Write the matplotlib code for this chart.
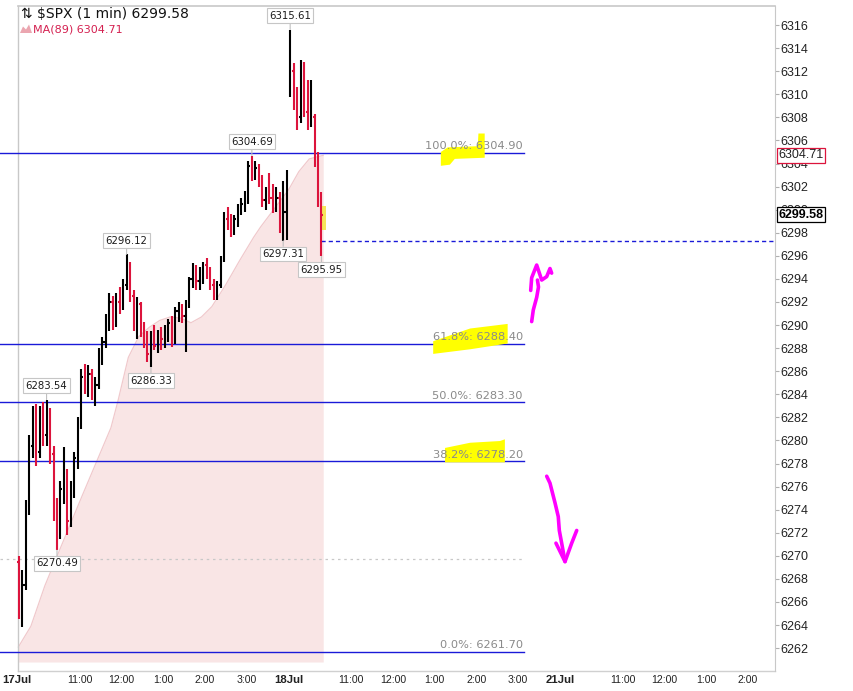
import matplotlib
matplotlib.use("Agg")
import matplotlib.pyplot as plt
from matplotlib.patches import Polygon, Rectangle
from matplotlib.collections import LineCollection

W, H = 854, 691
SESSION = 390          # minutes per trading session
BAR = 5                # minutes per drawn bar

# ---------------- data ----------------
# 17 Jul (5-minute bars, 9:30 - 16:00)
jul17_first_open = 6269.5
jul17_close = [6265.5, 6267.5, 6274.0, 6279.5, 6281.5, 6279.0, 6282.5, 6280.5, 6282.0, 6278.8,
               6274.0, 6272.5, 6275.8, 6277.0, 6273.0, 6276.0, 6278.5, 6281.5, 6285.5, 6284.8,
               6285.8, 6284.2, 6284.8, 6287.5, 6288.5, 6290.5, 6292.0, 6290.2, 6292.0, 6291.8,
               6293.5, 6295.0, 6292.5, 6290.0, 6291.8, 6289.5, 6288.5, 6287.5, 6289.0, 6288.2,
               6289.2, 6288.8, 6289.8, 6290.2, 6288.6, 6291.2, 6291.5, 6290.8, 6291.8, 6294.0,
               6294.8, 6293.8, 6294.5, 6295.2, 6294.5, 6293.5, 6292.6, 6293.5, 6295.8, 6299.2,
               6298.8, 6298.0, 6299.2, 6300.2, 6300.5, 6301.2, 6303.8, 6303.2, 6303.6, 6302.5,
               6300.8, 6301.5, 6301.0, 6300.3, 6301.0, 6298.5, 6299.8, 6302.0]
jul17_high = [6270.0, 6268.8, 6274.8, 6280.5, 6283.0, 6283.2, 6283.0, 6283.3, 6283.54, 6282.8,
              6279.5, 6275.0, 6276.5, 6279.4, 6277.5, 6276.5, 6279.0, 6282.0, 6286.2, 6286.6,
              6286.5, 6286.2, 6285.5, 6288.0, 6289.0, 6291.0, 6292.8, 6292.5, 6292.8, 6293.3,
              6294.0, 6296.12, 6295.5, 6293.0, 6292.4, 6292.0, 6290.3, 6289.5, 6289.5, 6290.0,
              6289.6, 6289.8, 6290.0, 6290.5, 6290.8, 6291.6, 6292.0, 6291.8, 6292.2, 6294.2,
              6295.4, 6295.2, 6295.0, 6295.5, 6295.8, 6295.0, 6294.0, 6293.8, 6296.0, 6299.8,
              6300.2, 6299.6, 6299.5, 6300.5, 6301.0, 6301.6, 6304.2, 6304.69, 6304.2, 6304.0,
              6303.0, 6302.0, 6303.2, 6302.2, 6302.0, 6301.5, 6302.5, 6303.4]
jul17_low = [6264.5, 6263.8, 6267.0, 6273.5, 6278.5, 6277.8, 6278.5, 6279.5, 6279.5, 6278.0,
             6273.0, 6270.49, 6271.5, 6274.5, 6271.8, 6272.5, 6275.0, 6277.5, 6281.0, 6284.0,
             6283.8, 6283.5, 6283.0, 6284.5, 6286.5, 6288.0, 6289.5, 6289.6, 6289.8, 6291.0,
             6291.3, 6293.0, 6292.0, 6289.5, 6288.8, 6289.0, 6288.0, 6286.8, 6286.33, 6287.8,
             6287.6, 6287.8, 6288.0, 6288.5, 6288.1, 6288.4, 6290.3, 6290.2, 6287.7, 6291.5,
             6293.2, 6293.0, 6293.0, 6293.6, 6294.0, 6293.0, 6292.2, 6292.2, 6293.2, 6295.5,
             6298.2, 6297.6, 6297.8, 6298.5, 6299.5, 6299.8, 6300.5, 6302.5, 6302.6, 6302.0,
             6300.2, 6300.0, 6300.5, 6299.7, 6299.8, 6298.0, 6297.31, 6297.4]

# 18 Jul (5-minute bars, 9:30 - 10:20)
jul18_first_open = 6310.0
jul18_close = [6312.0, 6309.0, 6308.0, 6309.5, 6308.5, 6307.5, 6308.0, 6304.5, 6300.8, 6299.58]
jul18_high = [6315.61, 6312.7, 6310.6, 6313.0, 6312.8, 6311.2, 6311.2, 6308.3, 6305.0, 6301.5]
jul18_low = [6309.8, 6308.6, 6306.9, 6307.5, 6308.0, 6306.9, 6307.2, 6303.7, 6300.2, 6295.95]

# MA(89)
ma_time = [2, 20, 40, 55, 95, 135, 145, 160, 175, 190, 205, 220, 235, 250, 265, 280,
           300, 320, 340, 350, 365, 390, 405, 420, 440]
ma_value = [6262.1, 6263.9, 6267.4, 6269.6, 6275.4, 6281.1, 6283.4, 6287.2, 6289.0, 6289.8,
            6290.4, 6290.7, 6290.6, 6290.2, 6290.7, 6291.6, 6293.5, 6295.6, 6297.6, 6298.5,
            6299.7, 6301.7, 6303.3, 6304.4, 6304.71]
ma_last = 6304.71
last_price = 6299.58

# Fibonacci retracement
fib_pct = ["100.0%", "61.8%", "50.0%", "38.2%", "0.0%"]
fib_level = [6304.90, 6288.40, 6283.30, 6278.20, 6261.70]
fib_end = 728
prev_low_level = 6297.31
dotted_level = 6269.75

peak_labels = [6315.61, 6304.69, 6296.12, 6283.54]
trough_labels = [6286.33, 6270.49, 6297.31, 6295.95]

# x axis ticks (minutes from 17 Jul open)
tick_time = [0, 90, 150, 210, 270, 330, 390, 480, 540, 600, 660, 720, 780, 870, 930, 990, 1050]
tick_text = ["17Jul", "11:00", "12:00", "1:00", "2:00", "3:00", "18Jul", "11:00", "12:00",
             "1:00", "2:00", "3:00", "21Jul", "11:00", "12:00", "1:00", "2:00"]
y_ticks = list(range(6262, 6317, 2))

# hand-drawn marks (minute, price)
hl_100 = [(609, 6303.8), (609, 6305.0), (619, 6305.4), (662, 6305.5), (663, 6306.6),
          (672, 6306.6), (672, 6304.5), (629, 6304.4), (622, 6303.9)]
hl_618 = [(598, 6288.6), (651, 6289.7), (705, 6290.1), (705, 6288.4), (651, 6287.9), (598, 6287.5)]
hl_382 = [(615, 6279.35), (651, 6279.8), (694, 6279.95), (701, 6280.1), (701, 6278.1), (615, 6278.1)]
hl_last = (436.4, 6298.2, 7.6, 2.1)
arrow_up_stem = [(739.5, 6290.3), (741.8, 6291.3), (746.7, 6292.4), (749.3, 6293.3), (747.8, 6293.9)]
arrow_up_head = [(738.1, 6293.0), (739.5, 6294.1), (746.7, 6295.2), (753.9, 6293.9),
                 (761.1, 6294.2), (765.8, 6294.9), (768.2, 6294.5)]
arrow_dn_stem = [(761.1, 6276.9), (765.8, 6276.3), (773.0, 6274.6), (777.7, 6273.4),
                 (779.2, 6272.2), (782.6, 6271.1), (787.4, 6269.5)]
arrow_dn_head = [(774.4, 6271.1), (787.4, 6269.5), (797.0, 6271.1), (804.2, 6272.2)]

# ---------------- figure ----------------
RED = "#dc143c"
BLUE = "#1a1ad8"
fig = plt.figure(figsize=(W / 100, H / 100), dpi=100)
fig.patch.set_facecolor("white")
ax_l, ax_r, ax_t, ax_b = 0, 775, 6, 671
ax = fig.add_axes([ax_l / W, 1 - ax_b / H, (ax_r - ax_l) / W, (ax_b - ax_t) / H])
xmin, xmax = -24.4, 1089.1
ymin, ymax = 6260.02, 6317.65
ax.set_xlim(xmin, xmax)
ax.set_ylim(ymin, ymax)

for s in ["left", "top", "bottom"]:
    ax.spines[s].set_visible(False)
ax.spines["right"].set_color("#c8c8c8")

# frame lines
x0 = (1.4 - xmin) / (xmax - xmin)
ax.plot([x0, 1], [1, 1], transform=ax.transAxes, color="#c8c8c8", lw=1.2, clip_on=False)
ax.plot([x0, 1], [0, 0], transform=ax.transAxes, color="#d0d0d0", lw=1.0, clip_on=False)
ax.plot([x0, x0], [0, 1], transform=ax.transAxes, color="#c8c8c8", lw=1.0, clip_on=False)

# MA area
ax.fill_between(ma_time, ma_value, 6260.8, color="#f9e5e5", lw=0, zorder=1)
ax.plot(ma_time, ma_value, color="#f0c9cc", lw=0.9, zorder=1.2)

# fib lines
for pct, lev in zip(fib_pct, fib_level):
    ax.plot([xmin, fib_end], [lev, lev], color=BLUE, lw=1.0, zorder=2)
ax.plot([xmin, fib_end], [dotted_level, dotted_level], color="#c8c8c8", lw=0.9,
        ls=(0, (2, 3)), zorder=2)
ax.plot([437.5, xmax], [prev_low_level, prev_low_level], color=BLUE, lw=1.0,
        ls=(0, (3, 2.2)), zorder=2)

# highlighter
for shp in (hl_100, hl_618, hl_382):
    ax.add_patch(Polygon(shp, closed=True, fc="#ffff00", ec="none", zorder=3))
ax.add_patch(Rectangle(hl_last[:2], hl_last[2], hl_last[3], fc="#f6e65a", ec="none", zorder=3))

for pct, lev in zip(fib_pct, fib_level):
    ax.annotate(f"{pct}: {lev:.2f}", xy=(fib_end - 1, lev), xytext=(0, 1.2),
                textcoords="offset points", ha="right", va="bottom", fontsize=8.2,
                color="#8a8a8a", zorder=4)

# bars
def build(first_open, closes):
    return [first_open] + closes[:-1]

day_sets = [
    (0, build(jul17_first_open, jul17_close), jul17_high, jul17_low, jul17_close),
    (SESSION, build(jul18_first_open, jul18_close), jul18_high, jul18_low, jul18_close),
]
segs, cols, bar_times, bar_highs, bar_lows = [], [], [], [], []
tk = 1.9
for off, op, hi, lo, cl in day_sets:
    for i, (o, h, l, c) in enumerate(zip(op, hi, lo, cl)):
        t = off + BAR * i + BAR / 2
        col = "#000000" if c >= o else RED
        segs += [[(t, l), (t, h)], [(t - tk, o), (t, o)], [(t, c), (t + tk, c)]]
        cols += [col] * 3
        bar_times.append(t)
        bar_highs.append(h)
        bar_lows.append(l)
ax.add_collection(LineCollection(segs, colors=cols, linewidths=1.5, zorder=5))

# high / low callouts
box = dict(boxstyle="square,pad=0.22", fc="white", ec="#c6c6c6", lw=0.8)
arr = dict(arrowstyle="-", color="#c0c0c0", lw=0.8, shrinkA=0, shrinkB=0)
for v in peak_labels:
    t = bar_times[bar_highs.index(v)]
    ax.annotate(f"{v:.2f}", xy=(t, v), xytext=(0, 10), textcoords="offset points",
                ha="center", va="center", fontsize=7.3, color="#1a1a1a", bbox=box,
                arrowprops=arr, zorder=6)
for v in trough_labels:
    t = bar_times[bar_lows.index(v)]
    ax.annotate(f"{v:.2f}", xy=(t, v), xytext=(0, -9.5), textcoords="offset points",
                ha="center", va="center", fontsize=7.3, color="#1a1a1a", bbox=box,
                arrowprops=arr, zorder=6)

# magenta arrows
for path in (arrow_up_stem, arrow_up_head, arrow_dn_stem, arrow_dn_head):
    xs, ys = zip(*path)
    ax.plot(xs, ys, color="#ff00ff", lw=2.6, solid_capstyle="round",
            solid_joinstyle="round", zorder=7)

# axes ticks
ax.yaxis.tick_right()
ax.set_yticks(y_ticks)
ax.set_yticklabels([str(v) for v in y_ticks], fontsize=9, family="Liberation Sans",
                   color="#222222")
ax.tick_params(axis="y", length=3, width=0.8, color="#b0b0b0", pad=1)
ax.set_xticks(tick_time)
ax.set_xticklabels(tick_text, fontsize=7.6, family="Liberation Sans", color="#222222")
for lab in ax.get_xticklabels():
    if "Jul" in lab.get_text():
        lab.set_fontweight("bold")
        lab.set_fontsize(8.2)
ax.tick_params(axis="x", length=0, pad=3)

# right price tags (drawn over the tick labels, as in the original)
tag_kw = dict(xycoords=("axes fraction", "data"), xytext=(2.5, 0),
              textcoords="offset points", ha="left", va="center", fontsize=9,
              family="Liberation Sans", annotation_clip=False, zorder=10)
ax.annotate(f"{ma_last:.2f}", xy=(1, ma_last), color="#222222",
            bbox=dict(boxstyle="square,pad=0.12", fc="white", ec=RED, lw=0.9), **tag_kw)
ax.annotate(f"{last_price:.2f}", xy=(1, last_price), color="#000000", fontweight="bold",
            bbox=dict(boxstyle="square,pad=0.12", fc="white", ec="#000000", lw=0.9), **tag_kw)

# legend text
fig.text(21 / W, 1 - 14.5 / H, f"\u21c5 $SPX (1 min) {last_price:.2f}", fontsize=10,
         va="center", ha="left", color="#111111")
icon = [(20, 33), (23, 26.5), (26, 29.5), (29, 24.5), (32, 33)]
fig.patches.append(Polygon([(x / W, 1 - y / H) for x, y in icon], closed=True,
                           fc="#eba6b0", ec="none", transform=fig.transFigure, figure=fig))
fig.text(33 / W, 1 - 29 / H, f"MA(89) {ma_last:.2f}", fontsize=8, va="center",
         ha="left", color="#d42050")

fig.savefig("out.png", dpi=100)
